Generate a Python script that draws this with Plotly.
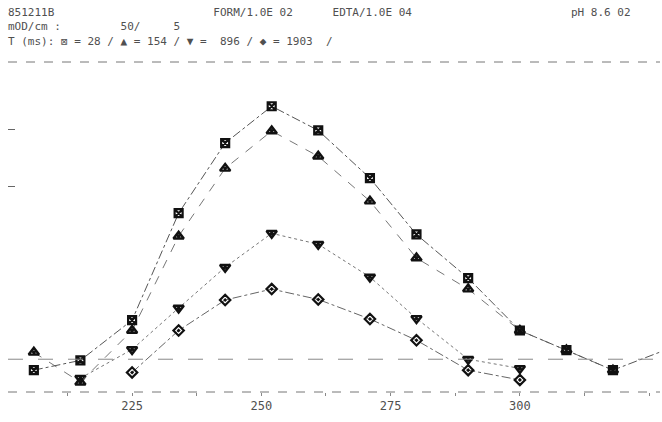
import plotly.graph_objects as go

# wavelength (nm) of the scanned points
wl = [206, 215, 225, 234, 243, 252, 261, 271, 280, 290, 300, 309, 318, 329]

# absorbance-like values (mOD) for each retention time series
t28 = [-1.9, -0.2, 6.8, 25.4, 37.6, 44.0, 39.8, 31.5, 21.7, 14.1, 5.0, 1.6, -1.9, 1.9]
t154 = [1.2, -4.0, 5.0, 21.4, 33.2, 39.7, 35.3, 27.5, 17.6, 12.2, 5.0, 1.6, -1.9]
wl_896 = [215, 225, 234, 243, 252, 261, 271, 280, 290, 300]
t896 = [-3.3, 1.7, 8.9, 16.0, 21.9, 20.0, 14.3, 7.1, 0.0, -1.6]
wl_1903 = [225, 234, 243, 252, 261, 271, 280, 290, 300]
t1903 = [-2.3, 5.0, 10.3, 12.2, 10.4, 7.0, 3.3, -1.9, -3.6]

tick_vals = [212.5, 225, 237.5, 250, 262.5, 275, 287.5, 300, 312.5, 325]
tick_text = ["", "225", "", "250", "", "275", "", "300", "", ""]
y_ticks = [30, 40]

MONO = "DejaVu Sans Mono"
INK = "#505050"
S = "\u00a0"

header_lines = [
    "851211B" + S * 24 + "FORM/1.0E" + S + "02" + S * 6 + "EDTA/1.0E" + S + "04" + S * 24 + "pH" + S + "8.6" + S + "02",
    "mOD/cm" + S + ":" + S * 9 + "50/" + S * 5 + "5",
    ("T (ms): \u22a0 = 28 / \u25b2 = 154 / \u25bc =  896 / \u25c6 = 1903  /").replace(" ", S),
]

fig = go.Figure()

fig.add_trace(go.Scatter(
    x=wl_1903, y=t1903, mode="lines+markers", name="T 1903",
    line=dict(color="#666", width=1, dash="dashdot"),
    marker=dict(symbol="diamond-open-dot", size=8, color="#111", line=dict(width=2.2, color="#111"))))
fig.add_trace(go.Scatter(
    x=wl_896, y=t896, mode="lines+markers", name="T 896",
    line=dict(color="#777", width=1, dash="dot"),
    marker=dict(symbol="triangle-down-open-dot", size=9, color="#111", line=dict(width=2.4, color="#111"))))
fig.add_trace(go.Scatter(
    x=wl[:len(t154)], y=t154, mode="lines+markers", name="T 154",
    line=dict(color="#777", width=1, dash="dash"),
    marker=dict(symbol="triangle-up-open-dot", size=9, color="#111", line=dict(width=2.4, color="#111"))))
fig.add_trace(go.Scatter(
    x=wl, y=t28, mode="lines+markers", name="T 28",
    line=dict(color="#555", width=1, dash="dashdot"),
    marker=dict(symbol="square-x-open", size=8, color="#111", line=dict(width=2.2, color="#111"))))

shapes = [
    dict(type="line", xref="paper", yref="paper", x0=0, x1=1, y0=1, y1=1,
         line=dict(color="#777", width=1, dash="dash")),
    dict(type="line", xref="paper", yref="paper", x0=0, x1=1, y0=0, y1=0,
         line=dict(color="#777", width=1, dash="dash")),
    dict(type="line", xref="paper", yref="y", x0=0, x1=1, y0=0, y1=0,
         line=dict(color="#888", width=1, dash="longdash")),
]

H = 330.0  # plot height px
W = 652.0
def px(xp):
    return (xp - 8) / W
def py(yp):
    return (392 - yp) / H

annotations = [
    dict(text="<br>".join(header_lines), x=px(6), y=py(4), xref="paper", yref="paper",
         xanchor="left", yanchor="top", align="left", showarrow=False,
         font=dict(family=MONO, size=11, color=INK)),
]

fig.update_layout(
    width=662, height=422,
    margin=dict(l=8, r=2, t=62, b=30),
    paper_bgcolor="white", plot_bgcolor="white",
    showlegend=False,
    shapes=shapes, annotations=annotations,
    xaxis=dict(range=[201, 327.1], tickvals=tick_vals, ticktext=tick_text,
               ticks="outside", ticklen=3, tickcolor="#888", showgrid=False,
               zeroline=False, showline=False,
               tickfont=dict(family=MONO, size=12, color=INK)),
    yaxis=dict(range=[-5.7, 51.7], tickvals=y_ticks, showticklabels=False,
               ticks="inside", ticklen=7, tickcolor="#666", showgrid=False,
               zeroline=False, showline=False),
)

fig.write_html("out.html", config={"displayModeBar": False},
               post_script="document.body.style.margin='0';")
